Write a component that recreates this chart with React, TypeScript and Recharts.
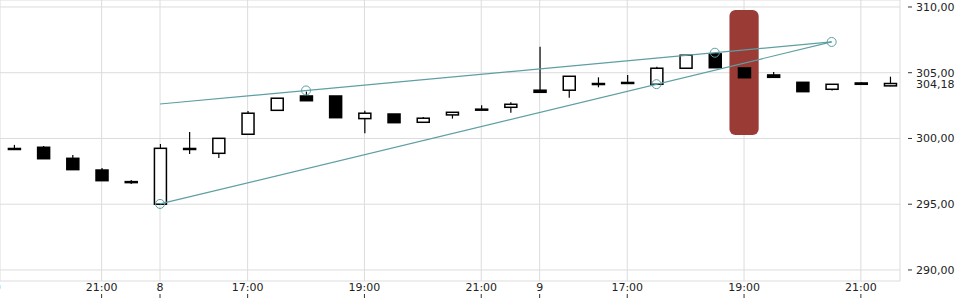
import React from 'react';
import {
  ComposedChart,
  Bar,
  Scatter,
  XAxis,
  YAxis,
  CartesianGrid,
  ReferenceArea,
  ReferenceLine,
} from 'recharts';

// candle index (30-minute bars)
const idx = [0, 1, 2, 3, 4, 5, 6, 7, 8, 9, 10, 11, 12, 13, 14, 15, 16, 17, 18, 19, 20, 21, 22, 23, 24, 25, 26, 27, 28, 29, 30];
const opens = [299.22, 299.33, 298.49, 297.6, 296.7, 295.0, 299.22, 298.87, 300.32, 302.14, 303.23, 303.23, 301.51, 301.86, 301.23, 301.79, 302.21, 302.37, 303.67, 303.67, 304.13, 304.21, 304.12, 305.34, 306.43, 305.36, 304.83, 304.27, 303.74, 304.22, 304.0];
const highs = [299.51, 299.43, 298.75, 297.76, 296.84, 299.58, 300.49, 300.01, 302.09, 303.06, 303.56, 303.23, 302.11, 301.86, 301.64, 301.99, 302.52, 302.75, 306.98, 304.73, 304.65, 304.83, 305.46, 306.33, 306.5, 305.36, 305.06, 304.27, 304.12, 304.27, 304.7];
const lows = [299.14, 298.46, 297.63, 296.79, 296.54, 295.0, 298.82, 298.52, 300.32, 302.14, 302.87, 301.58, 300.4, 301.2, 301.23, 301.51, 302.17, 301.96, 303.51, 303.1, 303.89, 304.2, 304.1, 305.34, 305.38, 304.62, 304.65, 303.56, 303.64, 304.12, 303.97];
const closes = [299.18, 298.46, 297.63, 296.79, 296.66, 299.25, 299.18, 300.01, 301.92, 303.06, 302.87, 301.58, 301.92, 301.2, 301.54, 301.99, 302.17, 302.6, 303.51, 304.73, 304.15, 304.23, 305.34, 306.33, 305.38, 304.62, 304.65, 303.56, 304.12, 304.12, 304.18];

const xTickIdx = [-1, 3, 5, 8, 12, 16, 18, 21, 25, 29];
const xTickLabels = ['19:00', '21:00', '8', '17:00', '19:00', '21:00', '9', '17:00', '19:00', '21:00'];
const yTicks = [290, 295, 300, 305, 310];

const upperTrendIdx = [5, 28];
const upperTrendVals = [302.62, 307.34];
const lowerTrendIdx = [5, 28];
const lowerTrendVals = [295.02, 307.34];
const anchorIdx = [5, 10, 22, 24, 28];
const anchorVals = [295.02, 303.65, 304.13, 306.52, 307.34];

const lastPrice = 304.18;
const highlightIdx = 25;
const highlightLow = 300.27;
const highlightHigh = 309.77;

const xDomain = [-0.48, 30.34];
const yDomain = [289.16, 310.53];

const TEAL = '#5d9fa3';
const FONT = 'DejaVu Sans';

const candles = idx.map((i, k) => ({
  i,
  open: opens[k],
  high: highs[k],
  low: lows[k],
  close: closes[k],
  range: [lows[k], highs[k]],
}));
const upperTrend = upperTrendIdx.map((i, k) => ({ i, v: upperTrendVals[k] }));
const lowerTrend = lowerTrendIdx.map((i, k) => ({ i, v: lowerTrendVals[k] }));
const anchors = anchorIdx.map((i, k) => ({ i, v: anchorVals[k] }));

const fmt = (v: number) => v.toFixed(2).replace('.', ',');

const Candle = (props: any) => {
  const { x, y, width, height, payload } = props;
  if (x == null || y == null || !payload) return null;
  const top = Math.min(y, y + height);
  const h = Math.abs(height);
  const { open, close, high, low } = payload;
  const px = (p: number) => top + ((high - p) / (high - low)) * h;
  const cx = x + width / 2;
  const up = close >= open;
  const bTop = px(Math.max(open, close));
  const bBot = px(Math.min(open, close));
  let by = bTop;
  let bh = bBot - bTop;
  if (bh < 1) {
    by = (bTop + bBot) / 2 - 0.5;
    bh = 1;
  }
  return (
    <g>
      <line x1={cx} x2={cx} y1={top} y2={top + h} stroke="#000" strokeWidth={1.2} />
      <rect x={cx - 6} y={by} width={12} height={bh} fill={up ? '#fff' : '#000'} stroke="#000" strokeWidth={1.5} />
    </g>
  );
};

const XTick = (props: any) => {
  const { x, y, payload } = props;
  const k = xTickIdx.indexOf(payload.value);
  const label = k >= 0 ? xTickLabels[k] : '';
  return (
    <g>
      <text x={x} y={y + 10} textAnchor="middle" fontFamily={FONT} fontSize={11} fill="#222">
        {label}
      </text>
      <line x1={x} x2={x} y1={y + 13} y2={y + 17} stroke="#333" strokeWidth={1} />
    </g>
  );
};

const YTick = (props: any) => {
  const { x, y, payload } = props;
  return (
    <g>
      <line x1={x + 8} x2={x + 12} y1={y} y2={y} stroke="#333" strokeWidth={1} />
      <text x={x + 16} y={y + 4} textAnchor="start" fontFamily={FONT} fontSize={11} fill="#222">
        {fmt(payload.value)}
      </text>
    </g>
  );
};

const LastLabel = (props: any) => {
  const vb = props.viewBox || {};
  return (
    <text x={vb.x + vb.width + 16} y={vb.y + 5} textAnchor="start" fontFamily={FONT} fontSize={11} fill="#222">
      {fmt(lastPrice)}
    </text>
  );
};

const Highlight = (props: any) => {
  const { x, y, width, height } = props;
  return <rect x={x} y={y} width={width} height={height} rx={6} ry={6} fill="#9a3b35" />;
};

const Ring = (props: any) => {
  const { cx, cy } = props;
  return <circle cx={cx} cy={cy} r={4.5} fill="none" stroke={TEAL} strokeWidth={1} />;
};

const NoMark = () => <g />;

export default function App() {
  return (
    <div style={{ position: 'absolute', left: 0, top: 0, width: 960, height: 300 }}>
      <ComposedChart
        width={960}
        height={300}
        data={candles}
        margin={{ top: 0, right: 0, bottom: 0, left: 0 }}
        style={{ overflow: 'visible' }}
      >
        <CartesianGrid stroke="#dcdcdc" strokeWidth={1} />
        <XAxis
          dataKey="i"
          type="number"
          domain={xDomain}
          allowDataOverflow
          ticks={xTickIdx}
          interval={0}
          height={19}
          axisLine={false}
          tickLine={false}
          tickSize={0}
          tickMargin={0}
          tick={<XTick />}
        />
        <YAxis
          orientation="right"
          type="number"
          domain={yDomain}
          allowDataOverflow
          ticks={yTicks}
          interval={0}
          width={60}
          axisLine={false}
          tickLine={false}
          tickSize={0}
          tickMargin={0}
          tick={<YTick />}
        />
        <ReferenceArea
          x1={highlightIdx - 0.5}
          x2={highlightIdx + 0.5}
          y1={highlightLow}
          y2={highlightHigh}
          shape={<Highlight />}
          ifOverflow="visible"
        />
        <Bar dataKey="range" barSize={12} shape={<Candle />} isAnimationActive={false} />
        <Scatter
          data={upperTrend}
          dataKey="v"
          line={{ stroke: TEAL, strokeWidth: 1.2 }}
          shape={<NoMark />}
          isAnimationActive={false}
        />
        <Scatter
          data={lowerTrend}
          dataKey="v"
          line={{ stroke: TEAL, strokeWidth: 1.2 }}
          shape={<NoMark />}
          isAnimationActive={false}
        />
        <Scatter data={anchors} dataKey="v" shape={<Ring />} isAnimationActive={false} />
        <ReferenceLine y={lastPrice} stroke="none" label={<LastLabel />} ifOverflow="visible" />
      </ComposedChart>
    </div>
  );
}
